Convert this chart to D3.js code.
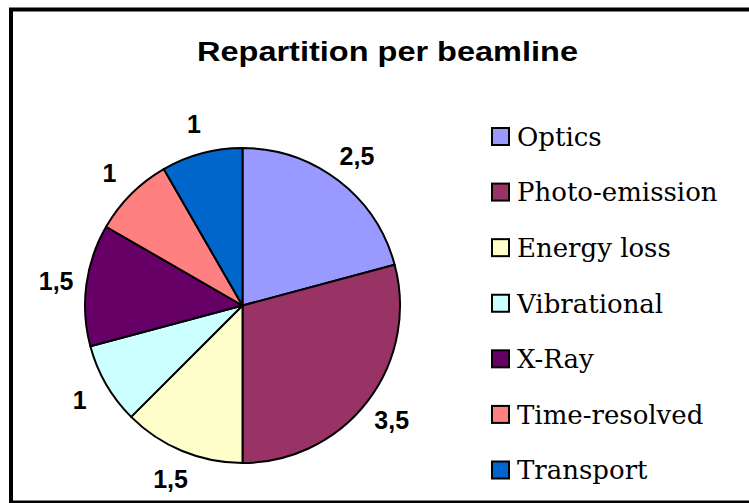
<!DOCTYPE html>
<html><head><meta charset="utf-8">
<script src="https://cdn.jsdelivr.net/npm/d3@7/dist/d3.min.js"></script>
<style>html,body{margin:0;padding:0;background:#fff;}svg{display:block;}</style>
</head><body>
<svg id="chart" width="749" height="503"></svg>
<script>
const categories = ["Optics","Photo-emission","Energy loss","Vibrational","X-Ray","Time-resolved","Transport"];
const values = [2.5,3.5,1.5,1,1.5,1,1];
const labels = ["2,5","3,5","1,5","1","1,5","1","1"];
const colors = ["#9999FF","#993366","#FFFFCC","#CCFFFF","#660066","#FF8080","#0066CC"];
const title = "Repartition per beamline";

const svg = d3.select("#chart");
svg.append("rect").attr("x",11).attr("y",9.5).attr("width",780).attr("height",493)
  .attr("fill","#fff").attr("stroke","#000").attr("stroke-width",4);

svg.append("text").attr("x",197).attr("y",61)
  .attr("textLength",381).attr("lengthAdjust","spacingAndGlyphs")
  .attr("font-family","Liberation Sans, Arial, sans-serif").attr("font-weight","bold")
  .attr("font-size",27).text(title);

const cx = 242.5, cy = 305.5, r = 157.5;
const data = categories.map((c,i)=>({cat:c,value:values[i],label:labels[i],color:colors[i]}));
const pie = d3.pie().value(d=>d.value).sort(null);
const arcs = pie(data);
const arc = d3.arc().innerRadius(0).outerRadius(r);
const labelArc = d3.arc().innerRadius(188).outerRadius(188);

const g = svg.append("g").attr("transform",`translate(${cx},${cy})`);
g.selectAll("path").data(arcs).join("path")
  .attr("d",arc).attr("fill",d=>d.data.color)
  .attr("stroke","#000").attr("stroke-width",2).attr("stroke-linejoin","round");

g.selectAll("text").data(arcs).join("text")
  .attr("transform",d=>`translate(${labelArc.centroid(d)})`)
  .attr("text-anchor","middle").attr("dy","0.36em")
  .attr("font-family","Liberation Sans, Arial, sans-serif").attr("font-weight","bold")
  .attr("font-size",25).text(d=>d.data.label);

const legend = svg.append("g");
const rowY = d3.scaleLinear().domain([0,categories.length-1]).range([136.5,470]);
const rows = legend.selectAll("g").data(data).join("g")
  .attr("transform",(d,i)=>`translate(491,${rowY(i)})`);
rows.append("rect").attr("x",1).attr("y",-8.5).attr("width",17).attr("height",17)
  .attr("fill",d=>d.color).attr("stroke","#000").attr("stroke-width",2);
rows.append("text").attr("x",26).attr("y",0).attr("dy","0.36em")
  .attr("font-family","DejaVu Serif, serif").attr("font-size",26)
  .text(d=>d.cat);
</script>
</body></html>
